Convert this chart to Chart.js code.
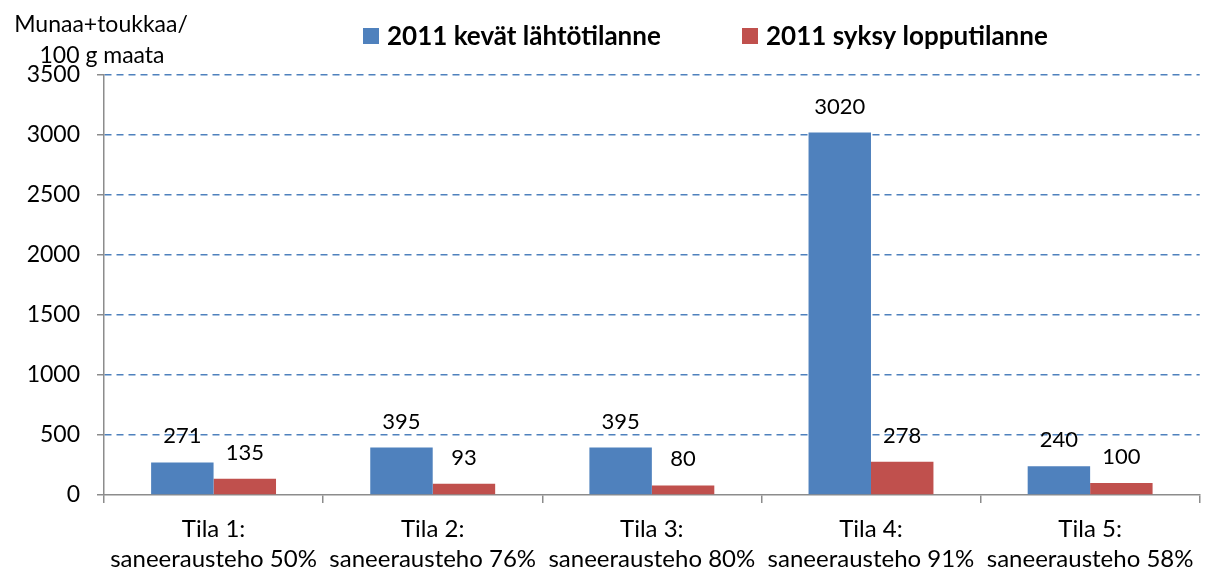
<!DOCTYPE html>
<html>
<head>
<meta charset="utf-8">
<script src="https://cdn.jsdelivr.net/npm/chart.js@4/dist/chart.umd.min.js"></script>
<style>
  html, body { margin: 0; padding: 0; background: #fff; }
  #wrap { width: 1205px; height: 572px; position: relative; }
</style>
</head>
<body>
<div id="wrap"><canvas id="chart"></canvas></div>
<script>
const farms = ['Tila 1:', 'Tila 2:', 'Tila 3:', 'Tila 4:', 'Tila 5:']
const efficiency = ['saneerausteho 50%', 'saneerausteho 76%', 'saneerausteho 80%', 'saneerausteho 91%', 'saneerausteho 58%']
const spring = [271, 395, 395, 3020, 240]
const autumn = [135, 93, 80, 278, 100]
const seriesNames = ['2011 kevät lähtötilanne', '2011 syksy lopputilanne']
const yTitle = ['Munaa+toukkaa/', '100 g maata']

const blue = '#4F81BD'
const red = '#C0504D'
const axisGray = '#8c8c8c'
const font = 'Lato, "Open Sans", sans-serif'

const ctx = document.getElementById('chart').getContext('2d')

// value labels above each bar
const valueLabels = {
    id: 'valueLabels',
    afterDatasetsDraw(chart) {
        const c = chart.ctx
        c.save()
        c.font = '22px ' + font
        c.fillStyle = '#000'
        c.textAlign = 'center'
        c.textBaseline = 'alphabetic'
        chart.data.datasets.forEach((ds, i) => {
            chart.getDatasetMeta(i).data.forEach((bar, j) => {
                c.fillText(ds.data[j], bar.x, bar.y - 19)
            })
        })
        c.restore()
    }
}

// axis title (two lines, top left) and legend across the top
const extras = {
    id: 'extras',
    afterDraw(chart) {
        const c = chart.ctx
        c.save()
        c.font = '23px ' + font
        c.fillStyle = '#000'
        c.textAlign = 'center'
        c.fillText(yTitle[0], 101, 32)
        c.fillText(yTitle[1], 102, 63)

        const legendX = [363, 742]
        c.font = 'bold 26px ' + font
        c.textAlign = 'left'
        chart.data.datasets.forEach((ds, i) => {
            c.fillStyle = ds.backgroundColor
            c.fillRect(legendX[i], 28, 16, 16)
            c.fillStyle = '#000'
            c.fillText(ds.label, legendX[i] + 24, 45)
        })
        c.restore()
    }
}

new Chart(ctx, {
    type: 'bar',
    data: {
        labels: farms.map((f, i) => [f, efficiency[i]]),
        datasets: [{
            label: seriesNames[0],
            data: spring,
            backgroundColor: blue,
            categoryPercentage: 0.57,
            barPercentage: 1.0
        }, {
            label: seriesNames[1],
            data: autumn,
            backgroundColor: red,
            categoryPercentage: 0.57,
            barPercentage: 1.0
        }]
    },
    options: {
        responsive: true,
        maintainAspectRatio: false,
        animation: false,
        layout: { padding: { top: 75, right: 5, bottom: 0, left: 0 } },
        plugins: {
            legend: { display: false },
            tooltip: { enabled: false }
        },
        scales: {
            x: {
                afterFit(scale) { scale.height = 77 },
                grid: {
                    drawOnChartArea: false,
                    offset: true,
                    tickLength: 8,
                    tickColor: axisGray,
                    lineWidth: 1.5
                },
                border: { color: axisGray, width: 1.5 },
                ticks: {
                    color: '#000',
                    font: { family: font, size: 24, lineHeight: 1.25 },
                    maxRotation: 0,
                    autoSkip: false,
                    padding: 11
                }
            },
            y: {
                min: 0,
                max: 3500,
                afterFit(scale) { scale.width = 104 },
                grid: {
                    color: ctx2 => ctx2.tick && ctx2.tick.value === 0 ? 'rgba(0,0,0,0)' : blue,
                    lineWidth: 1.5,
                    borderDash: [7, 5],
                    tickLength: 7,
                    tickColor: axisGray,
                    tickBorderDash: []
                },
                border: { color: axisGray, width: 1.5, dash: [7, 5] },
                ticks: {
                    stepSize: 500,
                    color: '#000',
                    font: { family: font, size: 23 },
                    padding: 17,
                    callback: v => String(v)
                }
            }
        }
    },
    plugins: [valueLabels, extras]
})
</script>
</body>
</html>
